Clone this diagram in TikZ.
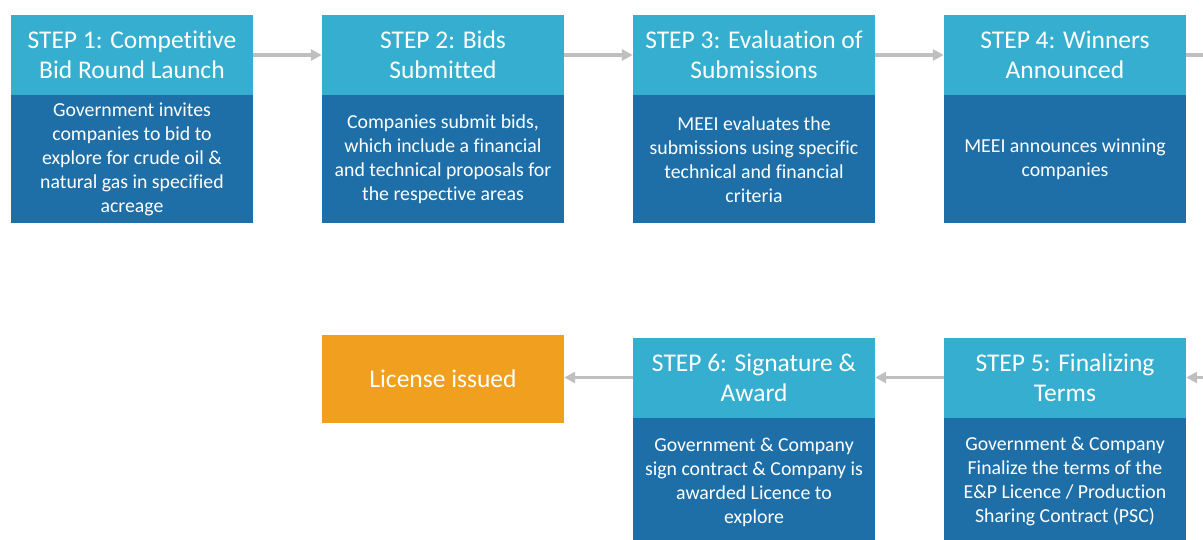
\documentclass[tikz,border=0pt]{standalone}
\usepackage{fontspec}
\setmainfont{Carlito}[Ligatures=NoCommon]
\usepackage{xcolor}
\usetikzlibrary{positioning,arrows.meta}
\definecolor{hdrblue}{RGB}{53,174,207}
\definecolor{bodyblue}{RGB}{30,111,168}
\definecolor{lightorange}{RGB}{240,160,30}
\definecolor{arrgray}{RGB}{191,191,191}

\begin{document}
\begin{tikzpicture}[x=1pt,y=1pt,
    hdr/.style={fill=hdrblue,text=white,minimum width=242pt,minimum height=80pt,
      inner sep=0pt,align=center,font=\fontsize{25.5}{30}\selectfont},
    body/.style={fill=bodyblue,text=white,minimum width=242pt,minimum height=128pt,
      inner sep=0pt,align=center,anchor=north,font=\fontsize{19.8}{24}\selectfont},
    link/.style={draw=arrgray,line width=3.5pt,-{Triangle[length=11pt,width=11pt]}}]
      \useasboundingbox (0,0) rectangle (1203,-540);
      \clip (0,0) rectangle (1203,-540);
      % top row
      \node[hdr] (s1) at (132,-55) {STEP 1: Competitive\\Bid Round Launch};
      \node[body] (b1) at (s1.south) {Government invites\\companies to bid to\\explore for crude oil \&\\natural gas in specified\\acreage};
      \node[hdr] (s2) at (443,-55) {STEP 2: Bids\\Submitted};
      \node[body] (b2) at (s2.south) {Companies submit bids,\\which include a financial\\and technical proposals for\\the respective areas};
      \node[hdr] (s3) at (754,-55) {STEP 3: Evaluation of\\Submissions};
      \node[body] (b3) at (s3.south) {MEEI evaluates the\\submissions using specific\\technical and financial\\criteria};
      \node[hdr] (s4) at (1065,-55) {STEP 4: Winners\\Announced};
      \node[body] (b4) at (s4.south) {MEEI announces winning\\companies};
      % bottom row
      \node[hdr] (s5) at (1065,-377.5) {STEP 5: Finalizing\\Terms};
      \node[body] (b5) at (s5.south) {Government \& Company\\Finalize the terms of the\\E\&P Licence / Production\\Sharing Contract (PSC)};
      \node[hdr] (s6) at (754,-377.5) {STEP 6: Signature \&\\Award};
      \node[body] (b6) at (s6.south) {Government \& Company\\sign contract \& Company is\\awarded Licence to\\explore};
      \node[hdr,fill=lightorange,minimum height=88pt] (lic) at (443,-379) {License issued};
      % connectors
      \coordinate (outR) at (1230,-55);
      \coordinate (inR) at (1230,-377.5);
      \draw[link] (s1) -- (s2);
      \draw[link] (s2) -- (s3);
      \draw[link] (s3) -- (s4);
      \draw[link] (s4) -- (outR);
      \draw[link] (inR) -- (s5);
      \draw[link] (s5) -- (s6);
      \draw[link] (s6.west) -- (s6.west -| lic.east);
    \end{tikzpicture}
\end{document}
